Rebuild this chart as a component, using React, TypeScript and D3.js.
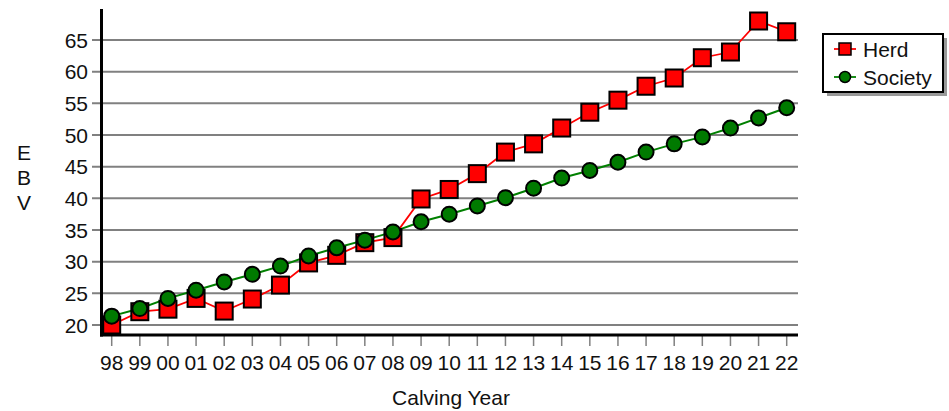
import { useEffect, useRef } from 'react';
import * as d3 from 'd3';

const years = ['98', '99', '00', '01', '02', '03', '04', '05', '06', '07', '08', '09', '10', '11', '12', '13', '14', '15', '16', '17', '18', '19', '20', '21', '22'];
const herd = [20.0, 22.1, 22.5, 24.2, 22.2, 24.1, 26.3, 29.8, 31.0, 33.0, 33.8, 39.9, 41.4, 43.9, 47.3, 48.6, 51.1, 53.6, 55.5, 57.7, 59.0, 62.2, 63.1, 68.0, 66.3];
const society = [21.4, 22.6, 24.2, 25.5, 26.8, 28.0, 29.3, 30.9, 32.2, 33.4, 34.7, 36.3, 37.5, 38.8, 40.1, 41.6, 43.2, 44.4, 45.7, 47.3, 48.6, 49.7, 51.1, 52.7, 54.3];
const yTicks = [20, 25, 30, 35, 40, 45, 50, 55, 60, 65];
const seriesNames = ['Herd', 'Society'];

export default function App() {
  const svgRef = useRef<SVGSVGElement>(null);

  useEffect(() => {
    if (!svgRef.current) return;
    const width = 949;
    const height = 411;
    const left = 101.5;
    const right = 798;
    const top = 9;
    const bottom = 335;
    const font = 'Arial, "Liberation Sans", sans-serif';
    const fs = '21px';

    const svg = d3.select(svgRef.current).attr('width', width).attr('height', height);
    svg.selectAll('*').remove();

    const x = d3.scalePoint<string>().domain(years).range([111.7, 786.7]);
    const y = d3.scaleLinear().domain([20, 65]).range([325, 40]);

    // grid + y ticks
    svg.append('g')
      .selectAll('line')
      .data(yTicks)
      .enter()
      .append('line')
      .attr('x1', 92)
      .attr('x2', right)
      .attr('y1', d => y(d))
      .attr('y2', d => y(d))
      .attr('stroke', '#808080')
      .attr('stroke-width', 2);

    svg.append('g')
      .selectAll('text')
      .data(yTicks)
      .enter()
      .append('text')
      .attr('x', 88)
      .attr('y', d => y(d))
      .attr('dy', '0.36em')
      .attr('text-anchor', 'end')
      .style('font-family', font)
      .style('font-size', fs)
      .attr('fill', '#111')
      .text(d => d);

    // x ticks
    svg.append('g')
      .selectAll('line')
      .data(years)
      .enter()
      .append('line')
      .attr('x1', d => x(d)!)
      .attr('x2', d => x(d)!)
      .attr('y1', bottom)
      .attr('y2', 346)
      .attr('stroke', '#808080')
      .attr('stroke-width', 1.5);

    svg.append('g')
      .selectAll('text')
      .data(years)
      .enter()
      .append('text')
      .attr('x', d => x(d)!)
      .attr('y', 362)
      .attr('dy', '0.36em')
      .attr('text-anchor', 'middle')
      .style('font-family', font)
      .style('font-size', fs)
      .attr('fill', '#111')
      .text(d => d);

    // axes
    svg.append('line').attr('x1', left).attr('x2', left).attr('y1', top).attr('y2', bottom + 1.5)
      .attr('stroke', '#000').attr('stroke-width', 3);
    svg.append('line').attr('x1', left - 1.5).attr('x2', right).attr('y1', bottom).attr('y2', bottom)
      .attr('stroke', '#000').attr('stroke-width', 3);

    // axis titles
    ['E', 'B', 'V'].forEach((ch, i) => {
      svg.append('text')
        .attr('x', 24)
        .attr('y', 152 + i * 25)
        .attr('dy', '0.36em')
        .attr('text-anchor', 'middle')
        .style('font-family', font)
        .style('font-size', fs)
        .attr('fill', '#111')
        .text(ch);
    });
    svg.append('text')
      .attr('x', 451)
      .attr('y', 397)
      .attr('dy', '0.36em')
      .attr('text-anchor', 'middle')
      .style('font-family', font)
      .style('font-size', fs)
      .attr('fill', '#111')
      .text('Calving Year');

    const line = d3.line<number>()
      .x((_, i) => x(years[i])!)
      .y(d => y(d));

    // herd series
    svg.append('path').datum(herd).attr('d', line).attr('fill', 'none')
      .attr('stroke', '#ff0000').attr('stroke-width', 1.8);
    // society series
    svg.append('path').datum(society).attr('d', line).attr('fill', 'none')
      .attr('stroke', '#008000').attr('stroke-width', 2);

    svg.append('g')
      .selectAll('rect')
      .data(herd)
      .enter()
      .append('rect')
      .attr('x', (_, i) => x(years[i])! - 8.5)
      .attr('y', d => y(d) - 8.5)
      .attr('width', 17)
      .attr('height', 17)
      .attr('fill', '#ff0000')
      .attr('stroke', '#000')
      .attr('stroke-width', 2);

    svg.append('g')
      .selectAll('circle')
      .data(society)
      .enter()
      .append('circle')
      .attr('cx', (_, i) => x(years[i])!)
      .attr('cy', d => y(d))
      .attr('r', 7.5)
      .attr('fill', '#007a00')
      .attr('stroke', '#000')
      .attr('stroke-width', 2);

    // legend
    const lg = svg.append('g');
    lg.append('rect').attr('x', 827).attr('y', 38).attr('width', 120).attr('height', 58).attr('fill', '#999');
    lg.append('rect').attr('x', 823).attr('y', 34).attr('width', 120).attr('height', 58)
      .attr('fill', '#fff').attr('stroke', '#000').attr('stroke-width', 2);
    seriesNames.forEach((name, i) => {
      const cy = 49 + i * 28;
      const color = i === 0 ? '#ff0000' : '#008000';
      lg.append('line').attr('x1', 834).attr('x2', 856).attr('y1', cy).attr('y2', cy)
        .attr('stroke', color).attr('stroke-width', 1.8);
      if (i === 0) {
        lg.append('rect').attr('x', 839).attr('y', cy - 6).attr('width', 12).attr('height', 12)
          .attr('fill', '#ff0000').attr('stroke', '#000').attr('stroke-width', 1.5);
      } else {
        lg.append('circle').attr('cx', 845).attr('cy', cy).attr('r', 5.5)
          .attr('fill', '#007a00').attr('stroke', '#000').attr('stroke-width', 1.5);
      }
      lg.append('text')
        .attr('x', 863)
        .attr('y', cy)
        .attr('dy', '0.36em')
        .style('font-family', font)
        .style('font-size', fs)
        .attr('fill', '#111')
        .text(name);
    });
  }, []);

  return (
    <div style={{ position: 'absolute', left: 0, top: 0, width: 949, height: 411, background: '#fff' }}>
      <svg ref={svgRef} style={{ display: 'block' }} />
    </div>
  );
}
